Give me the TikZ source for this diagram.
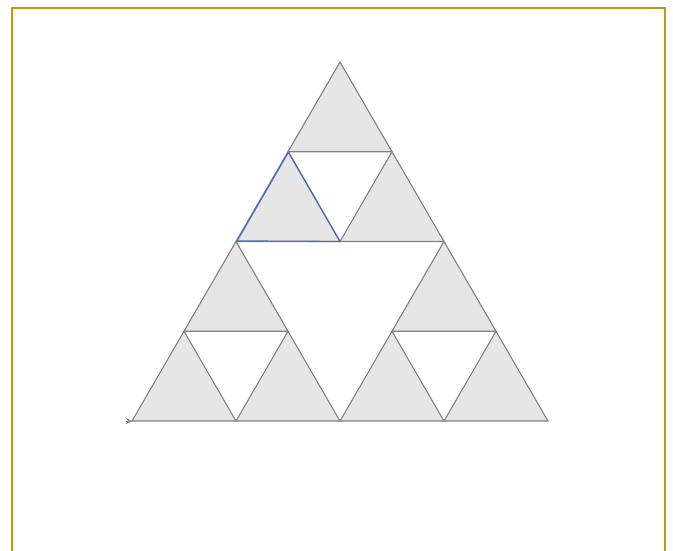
\documentclass[tikz,border=0pt]{standalone}
\usetikzlibrary{arrows.meta}
\definecolor{frame}{HTML}{C8960C}
\definecolor{tri}{HTML}{E6E6E6}
\definecolor{edge}{HTML}{808080}
\definecolor{hl}{HTML}{4A6FC0}
\tikzset{
  cell/.style={fill=tri, draw=edge, line width=1.1pt, line join=miter},
  border/.style={draw=frame, line width=2pt},
  highlight/.style={draw=hl, line width=1.3pt, line join=round},
}
\begin{document}
\begin{tikzpicture}[x=1pt,y=-1pt]
\useasboundingbox (0,0) rectangle (673,551);
\draw[border] (12,600) -- (12,8) -- (665,8) -- (665,600);
% level-2 Sierpinski triangles (side 104, height 89.75)
\foreach \ox/\oy in {0/0, 208/0, 104/-179.5}{
  \foreach \dx/\dy in {0/0, 104/0, 52/-89.75}{
    \draw[cell] (132+\ox+\dx,421+\oy+\dy) -- (236+\ox+\dx,421+\oy+\dy)
      -- (184+\ox+\dx,331.25+\oy+\dy) -- cycle;
  }
}
\coordinate (bl) at (237,241);
\coordinate (tp) at (288.5,152);
\coordinate (br) at (340,241.5);
\draw[highlight] (br) -- (bl) -- (tp) -- (br);
\coordinate (a0) at (126,421);
\coordinate (a1) at (132,421);
\draw[edge, line width=0.8pt, -{Stealth[length=6pt,width=6pt,open]}] (a0) -- (a1);
\end{tikzpicture}
\end{document}
